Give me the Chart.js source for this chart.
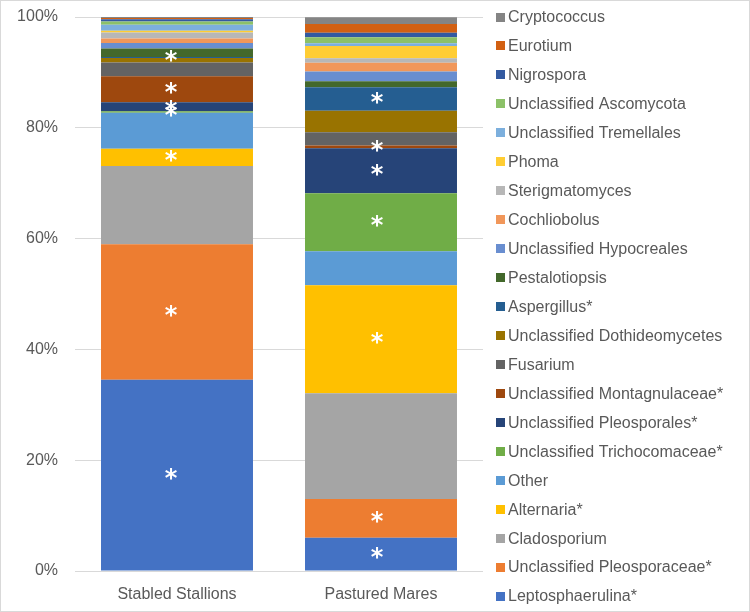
<!DOCTYPE html>
<html>
<head>
<meta charset="utf-8">
<script src="https://cdn.jsdelivr.net/npm/chart.js@4/dist/chart.umd.min.js"></script>
<style>
html,body{margin:0;padding:0;background:#fff;}
canvas{display:block;}
</style>
</head>
<body>
<canvas id="c" width="750" height="612"></canvas>
<script>
const categories = ['Stabled Stallions', 'Pastured Mares'];
const seriesNames = [
  'Leptosphaerulina*', 'Unclassified Pleosporaceae*', 'Cladosporium', 'Alternaria*', 'Other',
  'Unclassified Trichocomaceae*', 'Unclassified Pleosporales*', 'Unclassified Montagnulaceae*',
  'Fusarium', 'Unclassified Dothideomycetes', 'Aspergillus*', 'Pestalotiopsis',
  'Unclassified Hypocreales', 'Cochliobolus', 'Sterigmatomyces', 'Phoma',
  'Unclassified Tremellales', 'Unclassified Ascomycota', 'Nigrospora', 'Eurotium', 'Cryptococcus'
];
const stabledStallions = [34.5, 24.5, 14.1, 3.1, 6.5, 0.3, 1.6, 4.7, 2.5, 0.8, 0.2, 1.5, 1.0, 0.8, 1.1, 0.3, 1.1, 0.6, 0.4, 0.2, 0.2];
const pasturedMares    = [6.0, 7.0, 19.1, 19.5, 6.1, 10.5, 8.1, 0.5, 2.4, 3.9, 4.2, 1.1, 1.75, 1.6, 0.8, 2.2, 0.5, 1.1, 0.8, 1.6, 1.2];
const seriesColors = [
  '#4472C4', '#ED7D31', '#A5A5A5', '#FFC000', '#5B9BD5', '#70AD47', '#264478', '#9E480E',
  '#636363', '#997300', '#255E91', '#43682B', '#698ED0', '#F1975A', '#B7B7B7', '#FFCD33',
  '#7CAFDD', '#8CC168', '#335AA1', '#D26012', '#848484'
];
const yTicks = [0, 20, 40, 60, 80, 100];

const FONT = '"Liberation Sans", Arial, sans-serif';
const TEXT = '#595959';

const datasets = seriesNames.map((name, i) => ({
  label: name,
  data: [stabledStallions[i], pasturedMares[i]],
  backgroundColor: seriesColors[i],
  borderWidth: 0,
  categoryPercentage: 1,
  barPercentage: 0.745
}));

const starPlugin = {
  id: 'stars',
  afterDatasetsDraw(chart) {
    const ctx = chart.ctx;
    ctx.save();
    const fs = 24;
    ctx.font = 'bold ' + fs + 'px "DejaVu Sans", sans-serif';
    ctx.fillStyle = '#FFFFFF';
    ctx.textAlign = 'center';
    ctx.textBaseline = 'alphabetic';
    const xOff = [-6, -4];
    chart.data.datasets.forEach((ds, di) => {
      if (!ds.label.endsWith('*')) return;
      const meta = chart.getDatasetMeta(di);
      meta.data.forEach((bar, bi) => {
        const p = bar.getProps(['x', 'y', 'base'], true);
        const cy = (p.y + p.base) / 2;
        ctx.fillText('*', p.x + xOff[bi], cy - 1.5 + fs * 0.52);
      });
    });
    ctx.restore();
  }
};

const legendPlugin = {
  id: 'customLegend',
  afterDraw(chart) {
    const ctx = chart.ctx;
    ctx.save();
    const ds = chart.data.datasets;
    const x0 = 496, y0 = 17, step = 28.95;
    ctx.font = '16px ' + FONT;
    ctx.textBaseline = 'middle';
    ctx.textAlign = 'left';
    for (let k = 0; k < ds.length; k++) {
      const d = ds[ds.length - 1 - k];
      const y = y0 + k * step;
      ctx.fillStyle = d.backgroundColor;
      ctx.fillRect(x0, Math.round(y - 4.5), 9, 9);
      ctx.fillStyle = TEXT;
      ctx.fillText(d.label, x0 + 12, y + 1);
    }
    ctx.strokeStyle = '#D9D9D9';
    ctx.lineWidth = 1;
    ctx.strokeRect(0.5, 0.5, chart.width - 1, chart.height - 1);
    ctx.restore();
  }
};

new Chart(document.getElementById('c'), {
  type: 'bar',
  data: { labels: categories, datasets },
  options: {
    responsive: false,
    animation: false,
    layout: { padding: { left: 8, right: 267, top: 17, bottom: 6 } },
    plugins: { legend: { display: false }, tooltip: { enabled: false } },
    scales: {
      x: {
        stacked: true,
        grid: { display: false, drawTicks: false },
        border: { display: false },
        afterFit: s => { s.height = 35; s.paddingLeft = 0; s.paddingRight = 0; },
        ticks: { color: TEXT, font: { family: FONT, size: 16 }, padding: 14 }
      },
      y: {
        stacked: true,
        min: 0,
        max: 100,
        afterBuildTicks: s => { s.ticks = yTicks.map(v => ({ value: v })); },
        afterFit: s => { s.width = 67; s.paddingTop = 0; s.paddingBottom = 0; },
        grid: { color: '#D9D9D9', drawTicks: false, lineWidth: 1 },
        border: { display: false },
        ticks: { color: TEXT, font: { family: FONT, size: 16 }, padding: 17, callback: v => v + '%' }
      }
    }
  },
  plugins: [starPlugin, legendPlugin]
});
</script>
</body>
</html>
